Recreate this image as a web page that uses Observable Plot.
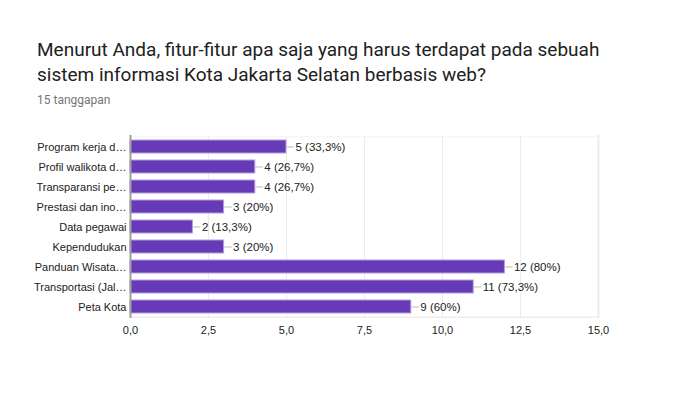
<!DOCTYPE html>
<html>
<head>
<meta charset="utf-8">
<script src="https://cdn.jsdelivr.net/npm/d3@7"></script>
<script src="https://cdn.jsdelivr.net/npm/@observablehq/plot@0.6"></script>
<style>
  html, body { margin: 0; padding: 0; background: #fff; }
  #wrap { position: relative; width: 687px; height: 411px; overflow: hidden; }
  #title { position: absolute; left: 37px; top: 37px; font-family: Roboto, sans-serif; font-size: 19px; line-height: 25px; color: #212121; }
  #sub { position: absolute; left: 37px; top: 93px; font-family: Roboto, sans-serif; font-size: 12px; color: #757575; }
  #chart { position: absolute; left: 0; top: 120px; }
</style>
</head>
<body>
<div id="wrap">
  <div id="title">Menurut Anda, fitur-fitur apa saja yang harus terdapat pada sebuah<br>sistem informasi Kota Jakarta Selatan berbasis web?</div>
  <div id="sub">15 tanggapan</div>
  <div id="chart"></div>
</div>
<script>
const categories = ["Program kerja d…", "Profil walikota d…", "Transparansi pe…", "Prestasi dan ino…", "Data pegawai", "Kependudukan", "Panduan Wisata…", "Transportasi (Jal…", "Peta Kota"];
const counts = [5, 4, 4, 3, 2, 3, 12, 11, 9];
const labels = ["5 (33,3%)", "4 (26,7%)", "4 (26,7%)", "3 (20%)", "2 (13,3%)", "3 (20%)", "12 (80%)", "11 (73,3%)", "9 (60%)"];
const xTicks = [0, 2.5, 5, 7.5, 10, 12.5, 15];
const xTickLabels = ["0,0", "2,5", "5,0", "7,5", "10,0", "12,5", "15,0"];

const data = categories.map((c, i) => ({cat: c, value: counts[i], label: labels[i]}));
const fmt = (d) => xTickLabels[xTicks.indexOf(d)];

const chart = Plot.plot({
  width: 687,
  height: 240,
  marginLeft: 130,
  marginRight: 89,
  marginTop: 15,
  marginBottom: 42,
  style: {fontFamily: "Arial, 'Liberation Sans', sans-serif", fontSize: "11px", color: "#222", background: "#fff"},
  x: {domain: [0, 15], label: null},
  y: {domain: categories, paddingInner: 0.36, paddingOuter: 0.18, label: null},
  marks: [
    Plot.ruleX(xTicks.slice(1), {stroke: "#ebebeb", strokeWidth: 1}),
    Plot.ruleX([15], {stroke: "#ececec", strokeWidth: 2}),
    Plot.ruleY([categories[categories.length - 1]], {dy: 10.2, x1: 0, x2: 15, stroke: "#e6e6e6", strokeWidth: 1}),
    Plot.ruleY([categories[0]], {dy: -10.2, x1: 0, x2: 15, stroke: "#f2f2f2", strokeWidth: 1}),
    Plot.barX(data, {x: "value", y: "cat", fill: "#673ab7", stroke: "#b39ddb", strokeWidth: 1}),
    Plot.ruleY(data, {y: "cat", x1: "value", x2: (d) => d.value + 0.26, stroke: "#bdbdbd", strokeWidth: 1}),
    Plot.text(data, {x: "value", y: "cat", text: "label", dx: 9, textAnchor: "start", fill: "#222", fontSize: 11.5}),
    Plot.ruleX([0], {stroke: "#9e9e9e", strokeWidth: 2}),
    Plot.axisX({ticks: xTicks, tickFormat: fmt, tickSize: 0, tickPadding: 8, fontSize: 11, fill: "#222", label: null}),
    Plot.axisY({tickSize: 0, tickPadding: 4, fontSize: 11, fill: "#222", label: null})
  ]
});
document.getElementById("chart").appendChild(chart);
</script>
</body>
</html>
